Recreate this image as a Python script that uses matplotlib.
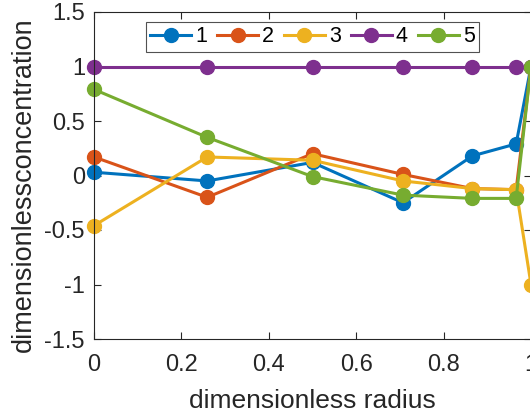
import matplotlib
matplotlib.use("Agg")
import matplotlib.pyplot as plt

plt.rcParams['font.family'] = ['Liberation Sans', 'DejaVu Sans']
plt.rcParams['axes.unicode_minus'] = False

# radial nodes
r = [0.0, 0.259, 0.5, 0.707, 0.866, 0.966, 1.0]

# concentration profiles
c1 = [0.03, -0.05, 0.12, -0.25, 0.18, 0.29, 1.0]
c2 = [0.17, -0.20, 0.20, 0.01, -0.12, -0.13, 1.0]
c3 = [-0.46, 0.17, 0.14, -0.05, -0.12, -0.13, -1.0]
c4 = [1.0, 1.0, 1.0, 1.0, 1.0, 1.0, 1.0]
c5 = [0.79, 0.35, -0.01, -0.18, -0.21, -0.21, 1.0]

labels = ['1', '2', '3', '4', '5']
colors = ['#0072BD', '#D95319', '#EDB120', '#7E2F8E', '#77AC30']

fig = plt.figure(figsize=(5.30, 4.17), dpi=100)
ax = fig.add_axes([94 / 530, 78 / 417, 437 / 530, 327 / 417])

for ys, lab, col in zip([c1, c2, c3, c4, c5], labels, colors):
    ax.plot(r, ys, '-o', color=col, lw=2.2, ms=10, label=lab, clip_on=False)

ax.set_xlim(0, 1)
ax.set_ylim(-1.5, 1.5)
ax.set_xticks([0, 0.2, 0.4, 0.6, 0.8, 1])
ax.set_xticklabels(['0', '0.2', '0.4', '0.6', '0.8', '1'])
ax.set_yticks([-1.5, -1, -0.5, 0, 0.5, 1, 1.5])
ax.set_yticklabels(['-1.5', '-1', '-0.5', '0', '0.5', '1', '1.5'])

dark = '#262626'
ax.tick_params(direction='in', top=True, right=True, length=5, width=0.8,
               labelsize=17, colors=dark)
ax.tick_params(axis='x', pad=11)
ax.tick_params(axis='y', pad=6.5)
for s in ax.spines.values():
    s.set_color(dark)
    s.set_linewidth(0.8)

ax.set_xlabel('dimensionless radius', fontsize=19, color=dark, labelpad=9)
ax.set_ylabel('dimensionlessconcentration', fontsize=19.5, color=dark)
ax.yaxis.set_label_coords(-0.131, 0.471)

leg = ax.legend(loc='upper center', bbox_to_anchor=(0.5, 0.969), ncol=5,
                fontsize=15.5, frameon=True, fancybox=False, handlelength=1.9,
                handletextpad=0.2, columnspacing=0.45, borderpad=0.2,
                borderaxespad=0)
leg.get_frame().set_edgecolor(dark)
leg.get_frame().set_linewidth(0.8)

fig.savefig('out.png', dpi=100)
